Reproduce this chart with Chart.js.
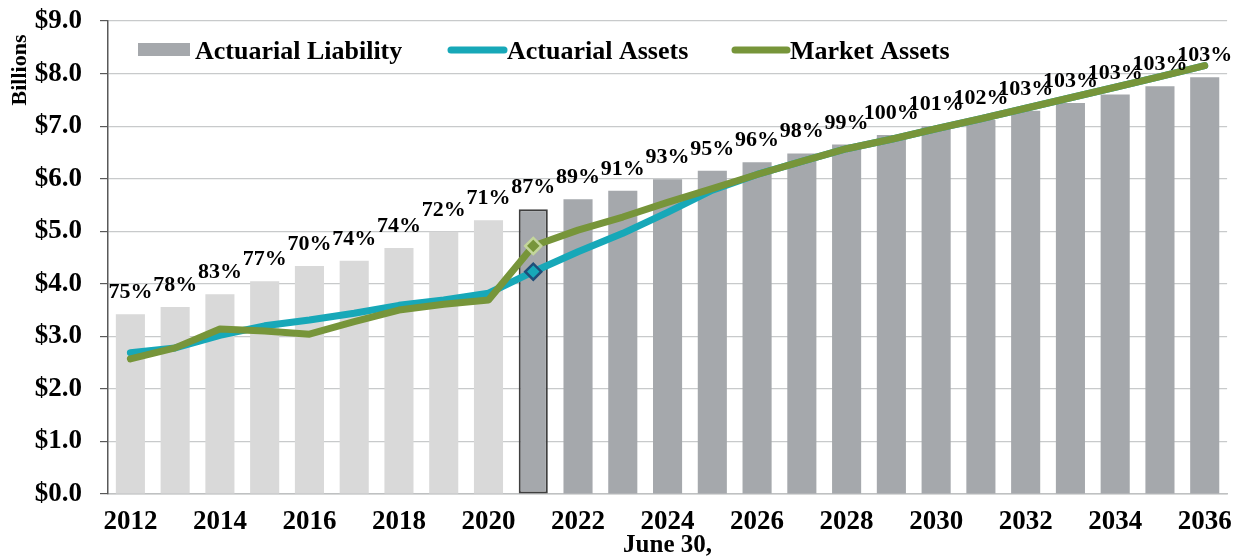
<!DOCTYPE html>
<html>
<head>
<meta charset="utf-8">
<title>Actuarial Liability and Assets</title>
<script src="https://cdn.jsdelivr.net/npm/chart.js@4.4.1/dist/chart.umd.min.js"></script>
<style>
  html, body { margin: 0; padding: 0; background: #fff; }
  #wrap { width: 1244px; height: 557px; }
</style>
</head>
<body>
<div id="wrap"><canvas id="fundChart" width="1244" height="557"></canvas></div>
<script>
// данные (млрд $)
const years = ['2012','2013','2014','2015','2016','2017','2018','2019','2020','2021','2022','2023','2024',
               '2025','2026','2027','2028','2029','2030','2031','2032','2033','2034','2035','2036'];
const liability = [3.42, 3.56, 3.80, 4.05, 4.34, 4.44, 4.68, 4.99, 5.21, 5.42, 5.61, 5.77, 5.99,
                   6.15, 6.31, 6.48, 6.65, 6.83, 7.00, 7.12, 7.29, 7.44, 7.60, 7.76, 7.93];
const actuarialAssets = [2.69, 2.78, 3.02, 3.20, 3.31, 3.44, 3.59, 3.69, 3.82, 4.23, 4.61, 4.96, 5.36,
                         5.78, 6.08, 6.33, 6.57, 6.75, 6.95, 7.14, 7.34, 7.54, 7.74, 7.94, 8.15];
const marketAssets = [2.57, 2.78, 3.14, 3.10, 3.04, 3.28, 3.50, 3.61, 3.69, 4.72, 5.02, 5.27, 5.55,
                      5.81, 6.08, 6.33, 6.57, 6.75, 6.95, 7.14, 7.34, 7.54, 7.74, 7.94, 8.15];
const fundedRatio = ['75%','78%','83%','77%','70%','74%','74%','72%','71%','87%','89%','91%','93%',
                     '95%','96%','98%','99%','100%','101%','102%','103%','103%','103%','103%','103%'];
const yTicks = [0, 1, 2, 3, 4, 5, 6, 7, 8, 9];

const valuationIdx = 9; // 2021
const SERIF = "'Liberation Serif', 'Times New Roman', serif";
const TEAL = '#17a8b8';
const GREEN = '#77953a';
const GRAY = '#a5a8ac';
const LIGHT = '#d9d9d9';

// подписи процентов над столбцами
const ratioLabels = {
  id: 'ratioLabels',
  afterDatasetsDraw(chart) {
    const ctx = chart.ctx;
    const bars = chart.getDatasetMeta(2).data;
    ctx.save();
    ctx.font = 'bold 22px ' + SERIF;
    ctx.fillStyle = '#000';
    ctx.textAlign = 'center';
    ctx.textBaseline = 'alphabetic';
    bars.forEach((bar, i) => {
      ctx.fillText(fundedRatio[i], bar.x, bar.y - 16);
    });
    ctx.restore();
  }
};

// легенда внутри области графика + подпись оси Y
const innerLegend = {
  id: 'innerLegend',
  afterDraw(chart) {
    const ctx = chart.ctx;
    const left = chart.chartArea.left;
    ctx.save();
    ctx.font = 'bold 26px ' + SERIF;
    ctx.fillStyle = '#000';
    ctx.textBaseline = 'alphabetic';
    ctx.textAlign = 'left';

    ctx.fillStyle = GRAY;
    ctx.fillRect(left + 30, 43, 52, 13);
    ctx.fillStyle = '#000';
    ctx.fillText('Actuarial Liability', left + 87, 59);

    ctx.lineCap = 'round';
    ctx.lineWidth = 7;
    ctx.strokeStyle = TEAL;
    ctx.beginPath(); ctx.moveTo(left + 343, 50); ctx.lineTo(left + 396, 50); ctx.stroke();
    ctx.fillText('Actuarial Assets', left + 399, 59);

    ctx.strokeStyle = GREEN;
    ctx.beginPath(); ctx.moveTo(left + 627, 50); ctx.lineTo(left + 679, 50); ctx.stroke();
    ctx.fillText('Market Assets', left + 682, 59);

    // Billions
    ctx.translate(20, 70);
    ctx.rotate(-Math.PI / 2);
    ctx.font = 'bold 22px ' + SERIF;
    ctx.textAlign = 'center';
    ctx.textBaseline = 'middle';
    ctx.fillText('Billions', 0, 0);
    ctx.restore();
  }
};

new Chart(document.getElementById('fundChart'), {
  type: 'bar',
  data: {
    labels: years,
    datasets: [
      {
        type: 'line',
        label: 'Market Assets',
        data: marketAssets,
        borderColor: GREEN,
        backgroundColor: GREEN,
        borderWidth: 7,
        tension: 0,
        borderCapStyle: 'round',
        borderJoinStyle: 'round',
        pointStyle: 'rectRot',
        pointRadius: years.map((y, i) => i === valuationIdx ? 8 : 0),
        pointBackgroundColor: GREEN,
        pointBorderColor: '#c3d69b',
        pointBorderWidth: 2.5,
        order: 1
      },
      {
        type: 'line',
        label: 'Actuarial Assets',
        data: actuarialAssets,
        borderColor: TEAL,
        backgroundColor: TEAL,
        borderWidth: 7,
        tension: 0,
        borderCapStyle: 'round',
        borderJoinStyle: 'round',
        pointStyle: 'rectRot',
        pointRadius: years.map((y, i) => i === valuationIdx ? 8 : 0),
        pointBackgroundColor: TEAL,
        pointBorderColor: '#1f4e79',
        pointBorderWidth: 2.5,
        order: 2
      },
      {
        label: 'Actuarial Liability',
        data: liability,
        backgroundColor: years.map((y, i) => i < valuationIdx ? LIGHT : GRAY),
        borderColor: '#3f3f3f',
        borderWidth: years.map((y, i) => i === valuationIdx ? 2 : 0),
        borderSkipped: false,
        barPercentage: 0.65,
        categoryPercentage: 1.0,
        order: 3
      }
    ]
  },
  options: {
    responsive: false,
    animation: false,
    events: [],
    layout: { padding: { left: 0, right: 14, top: 21, bottom: 0 } },
    plugins: {
      legend: { display: false },
      tooltip: { enabled: false }
    },
    scales: {
      x: {
        grid: { display: false, drawTicks: false },
        border: { color: '#bfc1c2', width: 1.5 },
        ticks: {
          autoSkip: false,
          maxRotation: 0,
          padding: 12,
          color: '#000',
          font: { family: SERIF, size: 27, weight: 'bold' },
          callback: (v, i) => i % 2 === 0 ? years[i] : ''
        },
        title: {
          display: true,
          text: 'June 30,',
          color: '#000',
          font: { family: SERIF, size: 25, weight: 'bold' },
          padding: { top: 0, bottom: -4 }
        },
        afterFit: (scale) => { scale.height = 63; }
      },
      y: {
        min: 0,
        max: 9,
        afterBuildTicks: (scale) => { scale.ticks = yTicks.map(v => ({ value: v })); },
        grid: { color: '#c8cacb', lineWidth: 1.2, tickColor: '#595959', tickLength: 8 },
        border: { color: '#595959', width: 1.5 },
        ticks: {
          padding: 18,
          color: '#000',
          font: { family: SERIF, size: 27, weight: 'bold' },
          callback: (v) => '$' + v.toFixed(1)
        },
        afterFit: (scale) => {
          scale.width = 108;
          scale.paddingTop = 0;
          scale.paddingBottom = 0;
        }
      }
    }
  },
  plugins: [ratioLabels, innerLegend]
});
</script>
</body>
</html>
